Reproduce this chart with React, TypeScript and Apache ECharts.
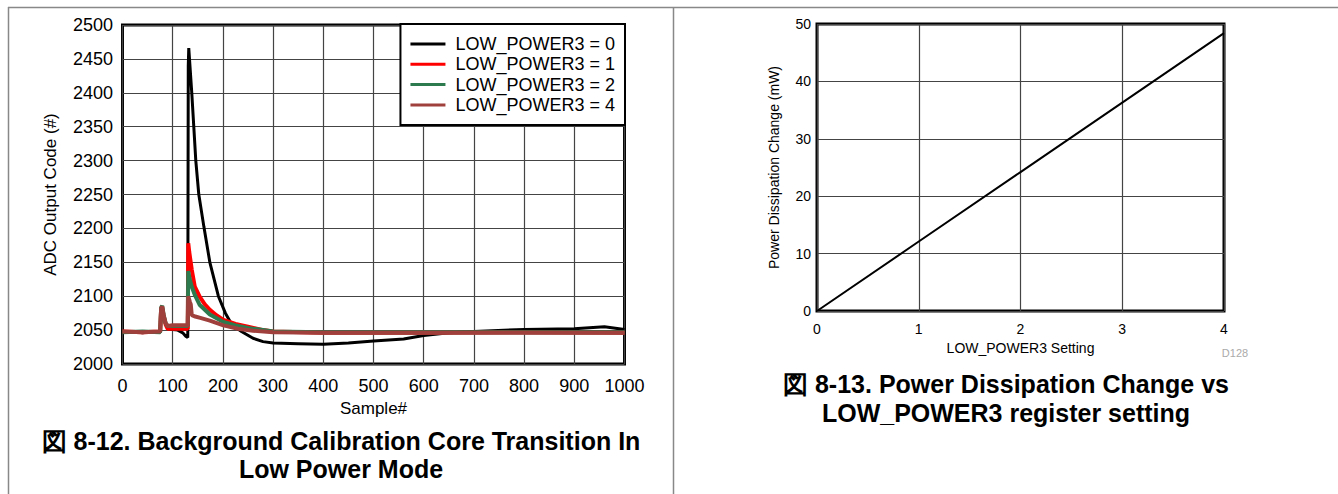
import React, { useEffect, useRef } from "react";
import * as echarts from "echarts";

const FONT = "'Liberation Sans', Arial, Helvetica, sans-serif";

// Figure 8-12: ADC output code vs sample#, hand-read key points [sample, code]
const seriesNames = ["LOW_POWER3 = 0", "LOW_POWER3 = 1", "LOW_POWER3 = 2", "LOW_POWER3 = 4"];
const seriesColors = ["#000000", "#ff0000", "#2e7a4f", "#a0403d"];

const lp0: [number, number][] = [
  [0, 2047], [20, 2048], [40, 2046], [60, 2048], [75, 2047], [77, 2080], [79, 2084], [82, 2072],
  [86, 2060], [90, 2052], [100, 2051], [110, 2050], [120, 2046], [126, 2041], [130, 2039],
  [131, 2440], [132, 2466], [138, 2400], [142, 2350], [146, 2300], [152, 2250], [162, 2203],
  [174, 2150], [191, 2100], [205, 2075], [218, 2058], [237, 2048], [260, 2038], [280, 2033],
  [300, 2031], [350, 2030], [400, 2029], [450, 2031], [500, 2034], [560, 2037], [600, 2042],
  [650, 2046], [700, 2048], [800, 2051], [900, 2052], [960, 2055], [1000, 2051],
];
const lp1: [number, number][] = [
  [0, 2048], [40, 2047], [75, 2048], [77, 2082], [79, 2084], [82, 2070], [86, 2058], [90, 2052],
  [100, 2052], [130, 2052], [131, 2178], [133, 2165], [138, 2139], [144, 2114], [154, 2099],
  [164, 2088], [174, 2080], [187, 2072], [201, 2065], [225, 2059], [250, 2055], [280, 2050],
  [300, 2048], [400, 2046], [600, 2046], [800, 2047], [1000, 2046],
];
const lp2: [number, number][] = [
  [0, 2047], [40, 2048], [75, 2047], [77, 2083], [79, 2086], [82, 2072], [86, 2060], [90, 2056],
  [100, 2056], [130, 2056], [131, 2137], [134, 2125], [138, 2114], [144, 2102], [154, 2087],
  [174, 2073], [201, 2062], [225, 2057], [250, 2053], [280, 2050], [300, 2048], [400, 2047],
  [600, 2047], [800, 2047], [1000, 2047],
];
const lp4: [number, number][] = [
  [0, 2048], [40, 2047], [75, 2048], [77, 2082], [79, 2085], [82, 2072], [86, 2060], [90, 2056],
  [100, 2057], [130, 2057], [131, 2100], [134, 2092], [136, 2088], [138, 2072], [145, 2070],
  [155, 2068], [174, 2064], [201, 2057], [230, 2052], [260, 2049], [300, 2047], [400, 2046],
  [600, 2046], [800, 2046], [1000, 2046],
];
const adcSeries = [lp0, lp1, lp2, lp4];

// Figure 8-13: power dissipation change vs LOW_POWER3 setting
const lpSetting = [0, 1, 2, 3, 4];
const powerChange = [0, 12.1, 24.2, 36.3, 48.4];

const plain = (v: number) => String(v);

export default function App() {
  const ref = useRef<HTMLDivElement>(null);
  useEffect(() => {
    if (!ref.current) return;
    const chart = echarts.init(ref.current, undefined, { renderer: "svg" });
    const grid = { color: "#444", width: 1.2 };
    const caption = (text: string, x: number, y: number) => ({
      type: "text", x, y,
      style: { text, font: `bold 25px ${FONT}`, fill: "#000", align: "center", verticalAlign: "middle" },
    });
    const option: any = {
      animation: false,
      textStyle: { fontFamily: FONT, color: "#000" },
      grid: [
        { left: 122.5, top: 25, width: 502, height: 339, show: true, borderColor: "#000", borderWidth: 3 },
        { left: 817, top: 24, width: 407, height: 287, show: true, borderColor: "#000", borderWidth: 3 },
      ],
      xAxis: [
        {
          gridIndex: 0, type: "value", min: 0, max: 1000, interval: 100,
          name: "Sample#", nameLocation: "middle", nameGap: 33,
          nameTextStyle: { fontSize: 17, color: "#000", fontFamily: FONT },
          axisLine: { show: false }, axisTick: { show: false },
          axisLabel: { fontSize: 18, color: "#000", margin: 13, fontFamily: FONT, formatter: plain },
          splitLine: { show: true, lineStyle: grid },
        },
        {
          gridIndex: 1, type: "value", min: 0, max: 4, interval: 1,
          name: "LOW_POWER3 Setting", nameLocation: "middle", nameGap: 29,
          nameTextStyle: { fontSize: 14, color: "#000", fontFamily: FONT },
          axisLine: { show: false }, axisTick: { show: false },
          axisLabel: { fontSize: 14, color: "#000", margin: 11, fontFamily: FONT, formatter: plain },
          splitLine: { show: true, lineStyle: grid },
        },
      ],
      yAxis: [
        {
          gridIndex: 0, type: "value", min: 2000, max: 2500, interval: 50,
          name: "ADC Output Code (#)", nameLocation: "middle", nameGap: 64,
          nameTextStyle: { fontSize: 17, color: "#000", fontFamily: FONT },
          axisLine: { show: false }, axisTick: { show: false },
          axisLabel: { fontSize: 18, color: "#000", margin: 9.5, fontFamily: FONT, formatter: plain },
          splitLine: { show: true, lineStyle: grid },
        },
        {
          gridIndex: 1, type: "value", min: 0, max: 50, interval: 10,
          name: "Power Dissipation Change (mW)", nameLocation: "middle", nameGap: 36,
          nameTextStyle: { fontSize: 14, color: "#000", fontFamily: FONT },
          axisLine: { show: false }, axisTick: { show: false },
          axisLabel: { fontSize: 14, color: "#000", margin: 6, fontFamily: FONT, formatter: plain },
          splitLine: { show: true, lineStyle: grid },
        },
      ],
      legend: {
        data: seriesNames,
        orient: "vertical",
        right: 713,
        top: 24,
        padding: [11, 10, 11, 10],
        itemGap: 2.3,
        icon: "rect",
        itemWidth: 35,
        itemHeight: 3,
        borderColor: "#000",
        borderWidth: 2,
        borderRadius: 0,
        backgroundColor: "#fff",
        textStyle: { fontSize: 18, color: "#000", fontFamily: FONT, padding: [0, 0, 0, 5] },
        z: 10,
      },
      series: [
        ...adcSeries.map((d, i) => ({
          name: seriesNames[i],
          type: "line",
          xAxisIndex: 0,
          yAxisIndex: 0,
          data: d,
          symbol: "none",
          lineStyle: { color: seriesColors[i], width: i === 0 ? 3 : 4 },
          itemStyle: { color: seriesColors[i] },
        })),
        {
          name: "power",
          type: "line",
          xAxisIndex: 1,
          yAxisIndex: 1,
          data: lpSetting.map((x, i) => [x, powerChange[i]]),
          symbol: "none",
          lineStyle: { color: "#000", width: 2 },
        },
      ],
      graphic: [
        { type: "line", shape: { x1: 8, y1: 7.5, x2: 1338, y2: 7.5 }, style: { stroke: "#888", lineWidth: 1.5 } },
        { type: "line", shape: { x1: 8.5, y1: 7, x2: 8.5, y2: 494 }, style: { stroke: "#888", lineWidth: 1.5 } },
        { type: "line", shape: { x1: 673.5, y1: 7, x2: 673.5, y2: 494 }, style: { stroke: "#888", lineWidth: 1.5 } },
        caption("図 8-12. Background Calibration Core Transition In", 341, 441),
        caption("Low Power Mode", 341, 469),
        caption("図 8-13. Power Dissipation Change vs", 1006, 384),
        caption("LOW_POWER3 register setting", 1006, 413),
        {
          type: "text", x: 1235, y: 352.7,
          style: { text: "D128", font: `11px ${FONT}`, fill: "#aaa", align: "center", verticalAlign: "middle" },
        },
      ],
    };
    chart.setOption(option);
    return () => chart.dispose();
  }, []);
  return (
    <div
      ref={ref}
      style={{ position: "absolute", left: 0, top: 0, width: 1338, height: 494, background: "#fff" }}
    />
  );
}
